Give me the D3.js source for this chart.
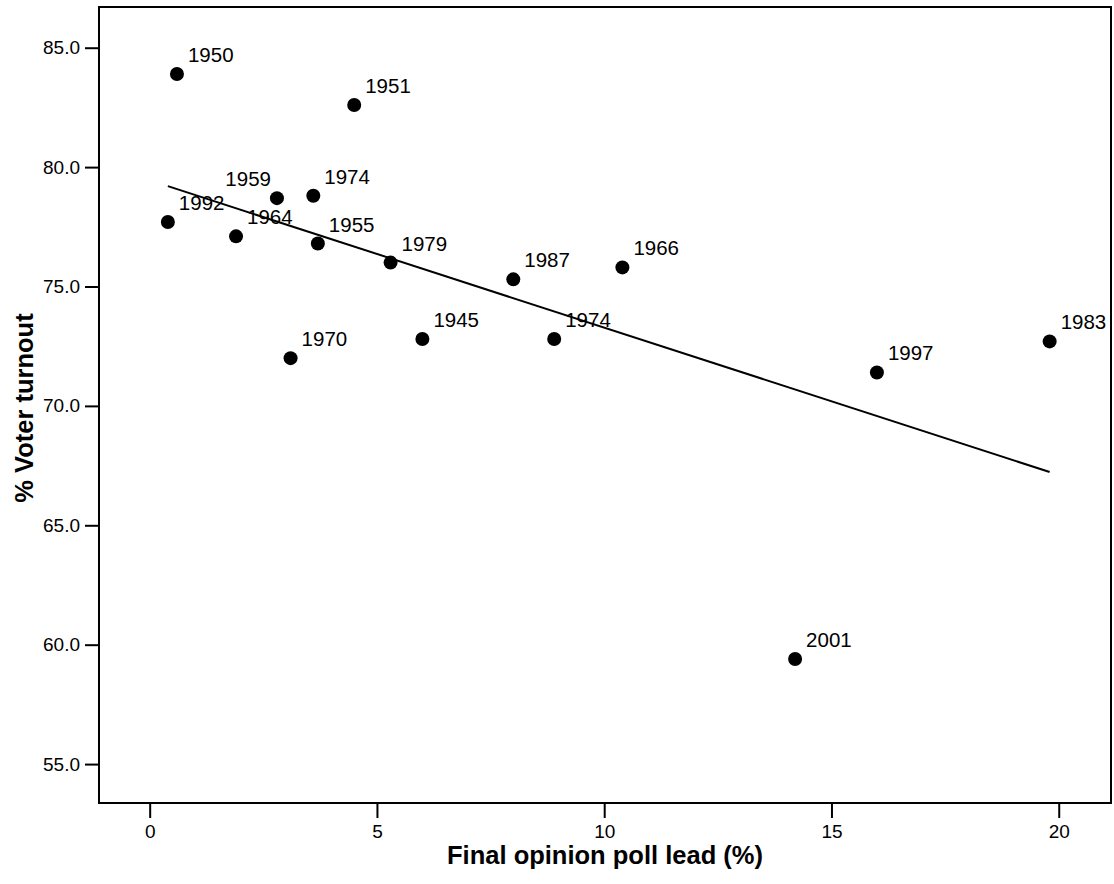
<!DOCTYPE html>
<html>
<head>
<meta charset="utf-8">
<script src="https://cdn.jsdelivr.net/npm/d3@7"></script>
<style>
  body { margin: 0; background: #fff; }
  svg { display: block; font-family: Arial, "Liberation Sans", sans-serif; }
</style>
</head>
<body>
<svg id="chart" width="1114" height="884"></svg>
<script>
// election years, final poll lead (%) and turnout (%)
var years = ["1950", "1951", "1992", "1964", "1959", "1974", "1955", "1979",
             "1970", "1945", "1987", "1974", "1966", "1997", "1983", "2001"];
var leads = [0.6, 4.5, 0.4, 1.9, 2.8, 3.6, 3.7, 5.3, 3.1, 6.0, 8.0, 8.9, 10.4, 16.0, 19.8, 14.2];
var turnouts = [83.9, 82.6, 77.7, 77.1, 78.7, 78.8, 76.8, 76.0, 72.0, 72.8, 75.3, 72.8, 75.8, 71.4, 72.7, 59.4];
var xTicks = [0, 5, 10, 15, 20];
var yTicks = [55, 60, 65, 70, 75, 80, 85];

(function () {
    var svg = d3.select("#chart");
    var plotL = 99, plotR = 1111, plotT = 7, plotB = 803;

    var x = d3.scaleLinear().domain([-1.115, 21.15]).range([plotL, plotR]);
    var y = d3.scaleLinear().domain([53.37, 86.705]).range([plotB, plotT]);

    var data = years.map(function (d, i) { return {year: d, x: leads[i], y: turnouts[i], i: i}; });

    // least squares fit line
    var mx = d3.mean(leads), my = d3.mean(turnouts);
    var sxy = d3.sum(data, function (d) { return (d.x - mx) * (d.y - my); });
    var sxx = d3.sum(data, function (d) { return (d.x - mx) * (d.x - mx); });
    var slope = sxy / sxx, icpt = my - slope * mx;
    var xMin = d3.min(leads), xMax = d3.max(leads);

    // axes
    var xAxis = d3.axisBottom(x).tickValues(xTicks).tickSize(15).tickPadding(7)
        .tickFormat(d3.format("d"));
    var yAxis = d3.axisLeft(y).tickValues(yTicks).tickSize(14).tickPadding(5)
        .tickFormat(d3.format(".1f"));

    var gx = svg.append("g").attr("transform", "translate(0," + plotB + ")").call(xAxis);
    var gy = svg.append("g").attr("transform", "translate(" + plotL + ",0)").call(yAxis);
    [gx, gy].forEach(function (g) {
        g.attr("font-family", null).attr("font-size", null);
        g.select(".domain").remove();
        g.selectAll(".tick line").attr("stroke", "#000").attr("stroke-width", 2);
        g.selectAll(".tick text").attr("fill", "#000").style("font-size", "19px");
    });

    // frame
    svg.append("rect")
        .attr("x", plotL).attr("y", plotT)
        .attr("width", plotR - plotL).attr("height", plotB - plotT)
        .attr("fill", "none").attr("stroke", "#000").attr("stroke-width", 2);

    // fit line
    svg.append("line")
        .attr("x1", x(xMin)).attr("y1", y(icpt + slope * xMin))
        .attr("x2", x(xMax)).attr("y2", y(icpt + slope * xMax))
        .attr("stroke", "#000").attr("stroke-width", 2);

    // points
    svg.append("g").selectAll("circle").data(data).enter().append("circle")
        .attr("cx", function (d) { return x(d.x); })
        .attr("cy", function (d) { return y(d.y); })
        .attr("r", 7)
        .attr("fill", "#000");

    // labels sit up-right of the dot, except 1959 which goes up-left
    var leftLabels = [4];
    svg.append("g").selectAll("text").data(data).enter().append("text")
        .attr("x", function (d) { return leftLabels.indexOf(d.i) >= 0 ? x(d.x) - 6 : x(d.x) + 11; })
        .attr("y", function (d) { return y(d.y) - 12; })
        .attr("text-anchor", function (d) { return leftLabels.indexOf(d.i) >= 0 ? "end" : "start"; })
        .style("font-size", "20.5px")
        .text(function (d) { return d.year; });

    // axis titles
    svg.append("text")
        .attr("x", (plotL + plotR) / 2).attr("y", 864)
        .attr("text-anchor", "middle")
        .style("font-size", "25.5px").style("font-weight", "bold")
        .text("Final opinion poll lead (%)");

    svg.append("text")
        .attr("transform", "translate(33," + ((plotT + plotB) / 2 + 3) + ") rotate(-90)")
        .attr("text-anchor", "middle")
        .style("font-size", "25.5px").style("font-weight", "bold")
        .text("% Voter turnout");
})();
</script>
</body>
</html>
